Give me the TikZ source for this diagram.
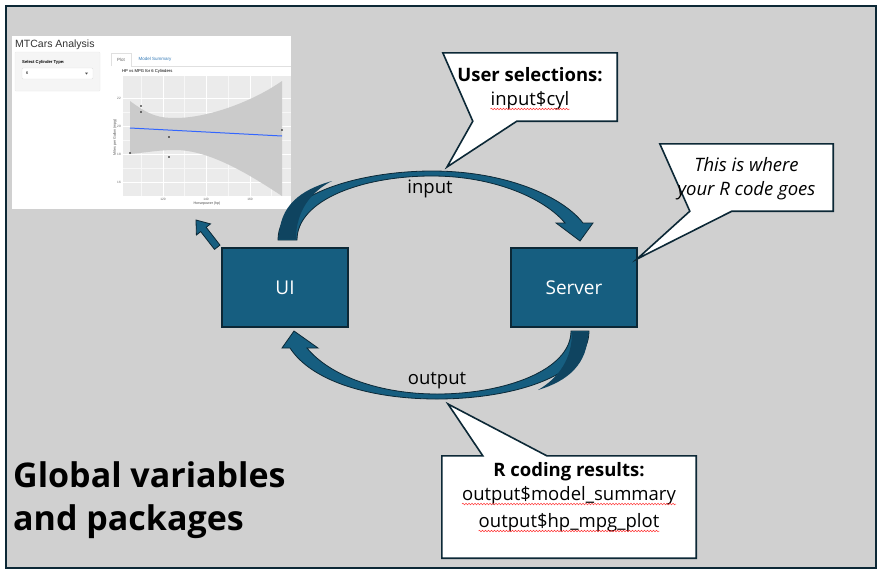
\documentclass[tikz,border=0pt]{standalone}
\usepackage{fontspec}
\setmainfont{Open Sans}
\newfontfamily\appfont{Liberation Sans}
\usetikzlibrary{positioning,calc,decorations.pathmorphing}
\definecolor{shinyblue}{RGB}{22,94,128}
\definecolor{shinydark}{RGB}{15,68,96}
\definecolor{shinyline}{RGB}{12,40,54}
\definecolor{slidegrey}{RGB}{208,208,208}
\definecolor{panelgrey}{RGB}{235,235,235}
\definecolor{wellgrey}{RGB}{245,245,245}
\definecolor{ribbongrey}{RGB}{203,203,203}
\definecolor{linkblue}{RGB}{51,122,183}
\definecolor{fitblue}{RGB}{51,102,255}
\tikzset{
  rolebox/.style={draw=shinyline,fill=shinyblue,line width=1.5pt,minimum width=126pt,minimum height=79pt,
    text=white,font=\fontsize{19}{21}\selectfont},
  callbox/.style={draw=none,minimum width=#1,inner sep=0pt},
  calloutline/.style={draw=shinyline,fill=white,line width=1.6pt},
  calltxt/.style={anchor=base,inner sep=0pt,font=\fontsize{18.5}{21}\selectfont},
  squig/.style={red!80!white,line width=0.5pt,decorate,decoration={snake,amplitude=0.8pt,segment length=3pt}},
  flowarrow/.style={draw=shinyline,fill=shinyblue,line width=0.8pt},
  flowshade/.style={fill=shinydark},
  flowlabel/.style={font=\fontsize{18.5}{20}\selectfont},
  apptxt/.style={inner sep=0pt,font=\appfont\fontsize{#1}{#1}\selectfont},
  apptxt/.default=4
}
\begin{document}
\begin{tikzpicture}[x=1pt,y=-1pt]
  \useasboundingbox (0,0) rectangle (885,573);
  \fill[white] (0,0) rectangle (885,573);
  \draw[draw=shinyline,fill=slidegrey,line width=2pt] (6,6) rectangle (876,568);

  % app screenshot
  \node[fill=white,minimum width=279pt,minimum height=173pt,inner sep=0pt] (app) at (151.5,122.5) {};
  \node[apptxt=10.5,anchor=base west,text=black!80] (apptitle) at (15,47) {MTCars Analysis};
  \draw[fill=wellgrey,draw=black!8,rounded corners=1pt] (15,52) rectangle (100,91);
  \node[apptxt=4.2,anchor=base west,font=\appfont\bfseries\fontsize{4.2}{5}\selectfont] (cyllabel) at (22,63) {Select Cylinder Type:};
  \draw[fill=white,draw=black!12,rounded corners=1pt] (22,68) rectangle (93,79);
  \node[apptxt=4,anchor=west] (cylval) at (26,73.5) {6};
  \fill[black!70] (85,72.5) -- (88,72.5) -- (86.5,74.5) -- cycle;
  \draw[draw=black!12,fill=white] (111,66) -- (111,53) -- (131,53) -- (131,66);
  \draw[draw=black!12] (131,66) -- (291,66);
  \node[apptxt=4.5,text=black!60] (tabplot) at (121,59.5) {Plot};
  \node[apptxt=4.5,text=linkblue] (tabsum) at (155,59.5) {Model Summary};
  \node[apptxt=4.2,anchor=west] (plottitle) at (122,71) {HP vs MPG for 6 Cylinders};
  \fill[panelgrey] (123,76) rectangle (291,196);
  \foreach \gx in {141.5,184.5,228,271.5} \draw[white!60!panelgrey,line width=0.4pt] (\gx,76) -- (\gx,196);
  \foreach \gy in {112,140,168} \draw[white!60!panelgrey,line width=0.4pt] (123,\gy) -- (291,\gy);
  \foreach \gx/\lab in {163/120,206/140,250/160} {
    \draw[white,line width=0.7pt] (\gx,76) -- (\gx,196);
    \node[apptxt=3.2,text=black!60] at (\gx,199.5) {\lab};
  }
  \foreach \gy/\lab in {98/22,126/20,154/18,182/16} {
    \draw[white,line width=0.7pt] (123,\gy) -- (291,\gy);
    \node[apptxt=3.2,text=black!60,anchor=east] at (121,\gy) {\lab};
  }
  \fill[ribbongrey] (130,101) .. controls (150,116) and (160,118) .. (175,118)
    .. controls (210,118) and (255,100) .. (282,81) -- (282,196)
    .. controls (250,175) and (210,150) .. (175,150)
    .. controls (160,150) and (150,152) .. (130,154) -- cycle;
  \draw[fitblue,line width=1pt] (130,128) -- (282,136);
  \foreach \px/\py in {130/153,141/106,141/112,169/137,169/157,282/130}
    \fill[black] (\px,\py) circle (0.9);
  \node[apptxt=3.6,text=black!70] (xlab) at (207,203.5) {Horsepower (hp)};
  \node[apptxt=3.6,text=black!70,rotate=90] (ylab) at (115,137) {Miles per Gallon (mpg)};

  % roles
  \node[rolebox] (ui) at (285,287.5) {UI};
  \node[rolebox] (server) at (574,287.5) {Server};

  % input arrow
  \draw[flowarrow] (278,240) .. controls (278,192) and (365,171) .. (432,171)
    .. controls (505,171) and (562,196) .. (583,223) -- (593,223) -- (580,241) -- (556,223) -- (565,223)
    .. controls (545,199) and (495,176) .. (432,176)
    .. controls (362,176) and (297,200) .. (297,240) -- cycle;
  \fill[flowshade] (279,239) .. controls (279,206) and (300,190) .. (332,181)
    .. controls (312,191) and (296,210) .. (296,239) -- cycle;
  \node[flowlabel] (inlab) at (430,189) {input};

  % output arrow
  \draw[flowarrow] (589,331) .. controls (589,377) and (510,399) .. (437,399)
    .. controls (372,399) and (312,382) .. (290,348) -- (282,348) -- (294,331) -- (318,348) -- (307,348)
    .. controls (330,376) and (380,394) .. (437,394)
    .. controls (505,394) and (571,370) .. (571,331) -- cycle;
  \fill[flowshade] (588,332) .. controls (588,364) and (568,381) .. (538,390)
    .. controls (560,377) and (572,358) .. (572,332) -- cycle;
  \node[flowlabel] (outlab) at (437,381) {output};

  % ui shows app
  \coordinate (showtail) at ($(ui.north west)+(-4,0)$);
  \coordinate (showtip) at (196,220);
  \draw[flowarrow] ($(showtail)+(2.75,-2.16)$) -- (206.2,227.3) -- (210.5,223.9) -- (showtip)
    -- (196.4,235) -- (200.7,231.6) -- ($(showtail)+(-2.75,2.16)$) -- cycle;

  % callout: user selections
  \node[callbox=174pt,minimum height=68pt] (sel) at (530,87) {};
  \coordinate (seltip) at (447,167);
  \draw[calloutline] (sel.north west) -- (sel.north east) -- (sel.south east) -- ($(sel.south west)+(74,0)$)
    -- (seltip) -- ($(sel.south west)+(30,0)$) -- cycle;
  \node[calltxt,font=\bfseries\fontsize{18.5}{21}\selectfont] (selT) at (530,81) {User selections:};
  \node[calltxt] (selC) at (530,105) {input\$cyl};
  \draw[squig] ($(selC.base west)+(0,4)$) -- ($(selC.base east)+(0,4)$);

  % callout: server code
  \node[callbox=173pt,minimum height=67pt] (code) at (746.5,177.5) {};
  \coordinate (codetip) at (637,259);
  \draw[calloutline] (code.north west) -- (code.north east) -- (code.south east) -- ($(code.south west)+(72,0)$)
    -- (codetip) -- ($(code.south west)+(30,0)$) -- cycle;
  \node[calltxt,font=\itshape\fontsize{18.5}{21}\selectfont] (codeA) at (746.5,171) {This is where};
  \node[calltxt,font=\itshape\fontsize{18.5}{21}\selectfont] (codeB) at (746.5,195) {your R code goes};

  % callout: results
  \node[callbox=254pt,minimum height=102pt] (res) at (569,507) {};
  \coordinate (restip) at (448,404);
  \draw[calloutline] (res.north west) -- ($(res.north west)+(41,0)$) -- (restip) -- ($(res.north west)+(105,0)$)
    -- (res.north east) -- (res.south east) -- (res.south west) -- cycle;
  \node[calltxt,font=\bfseries\fontsize{18.5}{21}\selectfont] (resT) at (569,476) {R coding results:};
  \node[calltxt] (resA) at (569,500) {output\$model\_summary};
  \node[calltxt] (resB) at (569,527) {output\$hp\_mpg\_plot};
  \draw[squig] ($(resA.base west)+(0,4)$) -- ($(resA.base east)+(0,4)$);
  \draw[squig] ($(resB.base west)+(0,4)$) -- ($(resB.base east)+(0,4)$);

  % global scope
  \node[anchor=base west,inner sep=0pt,align=left,font=\bfseries\fontsize{34}{43}\selectfont] (global) at (13,530)
    {Global variables\\and packages};
\end{tikzpicture}
\end{document}
